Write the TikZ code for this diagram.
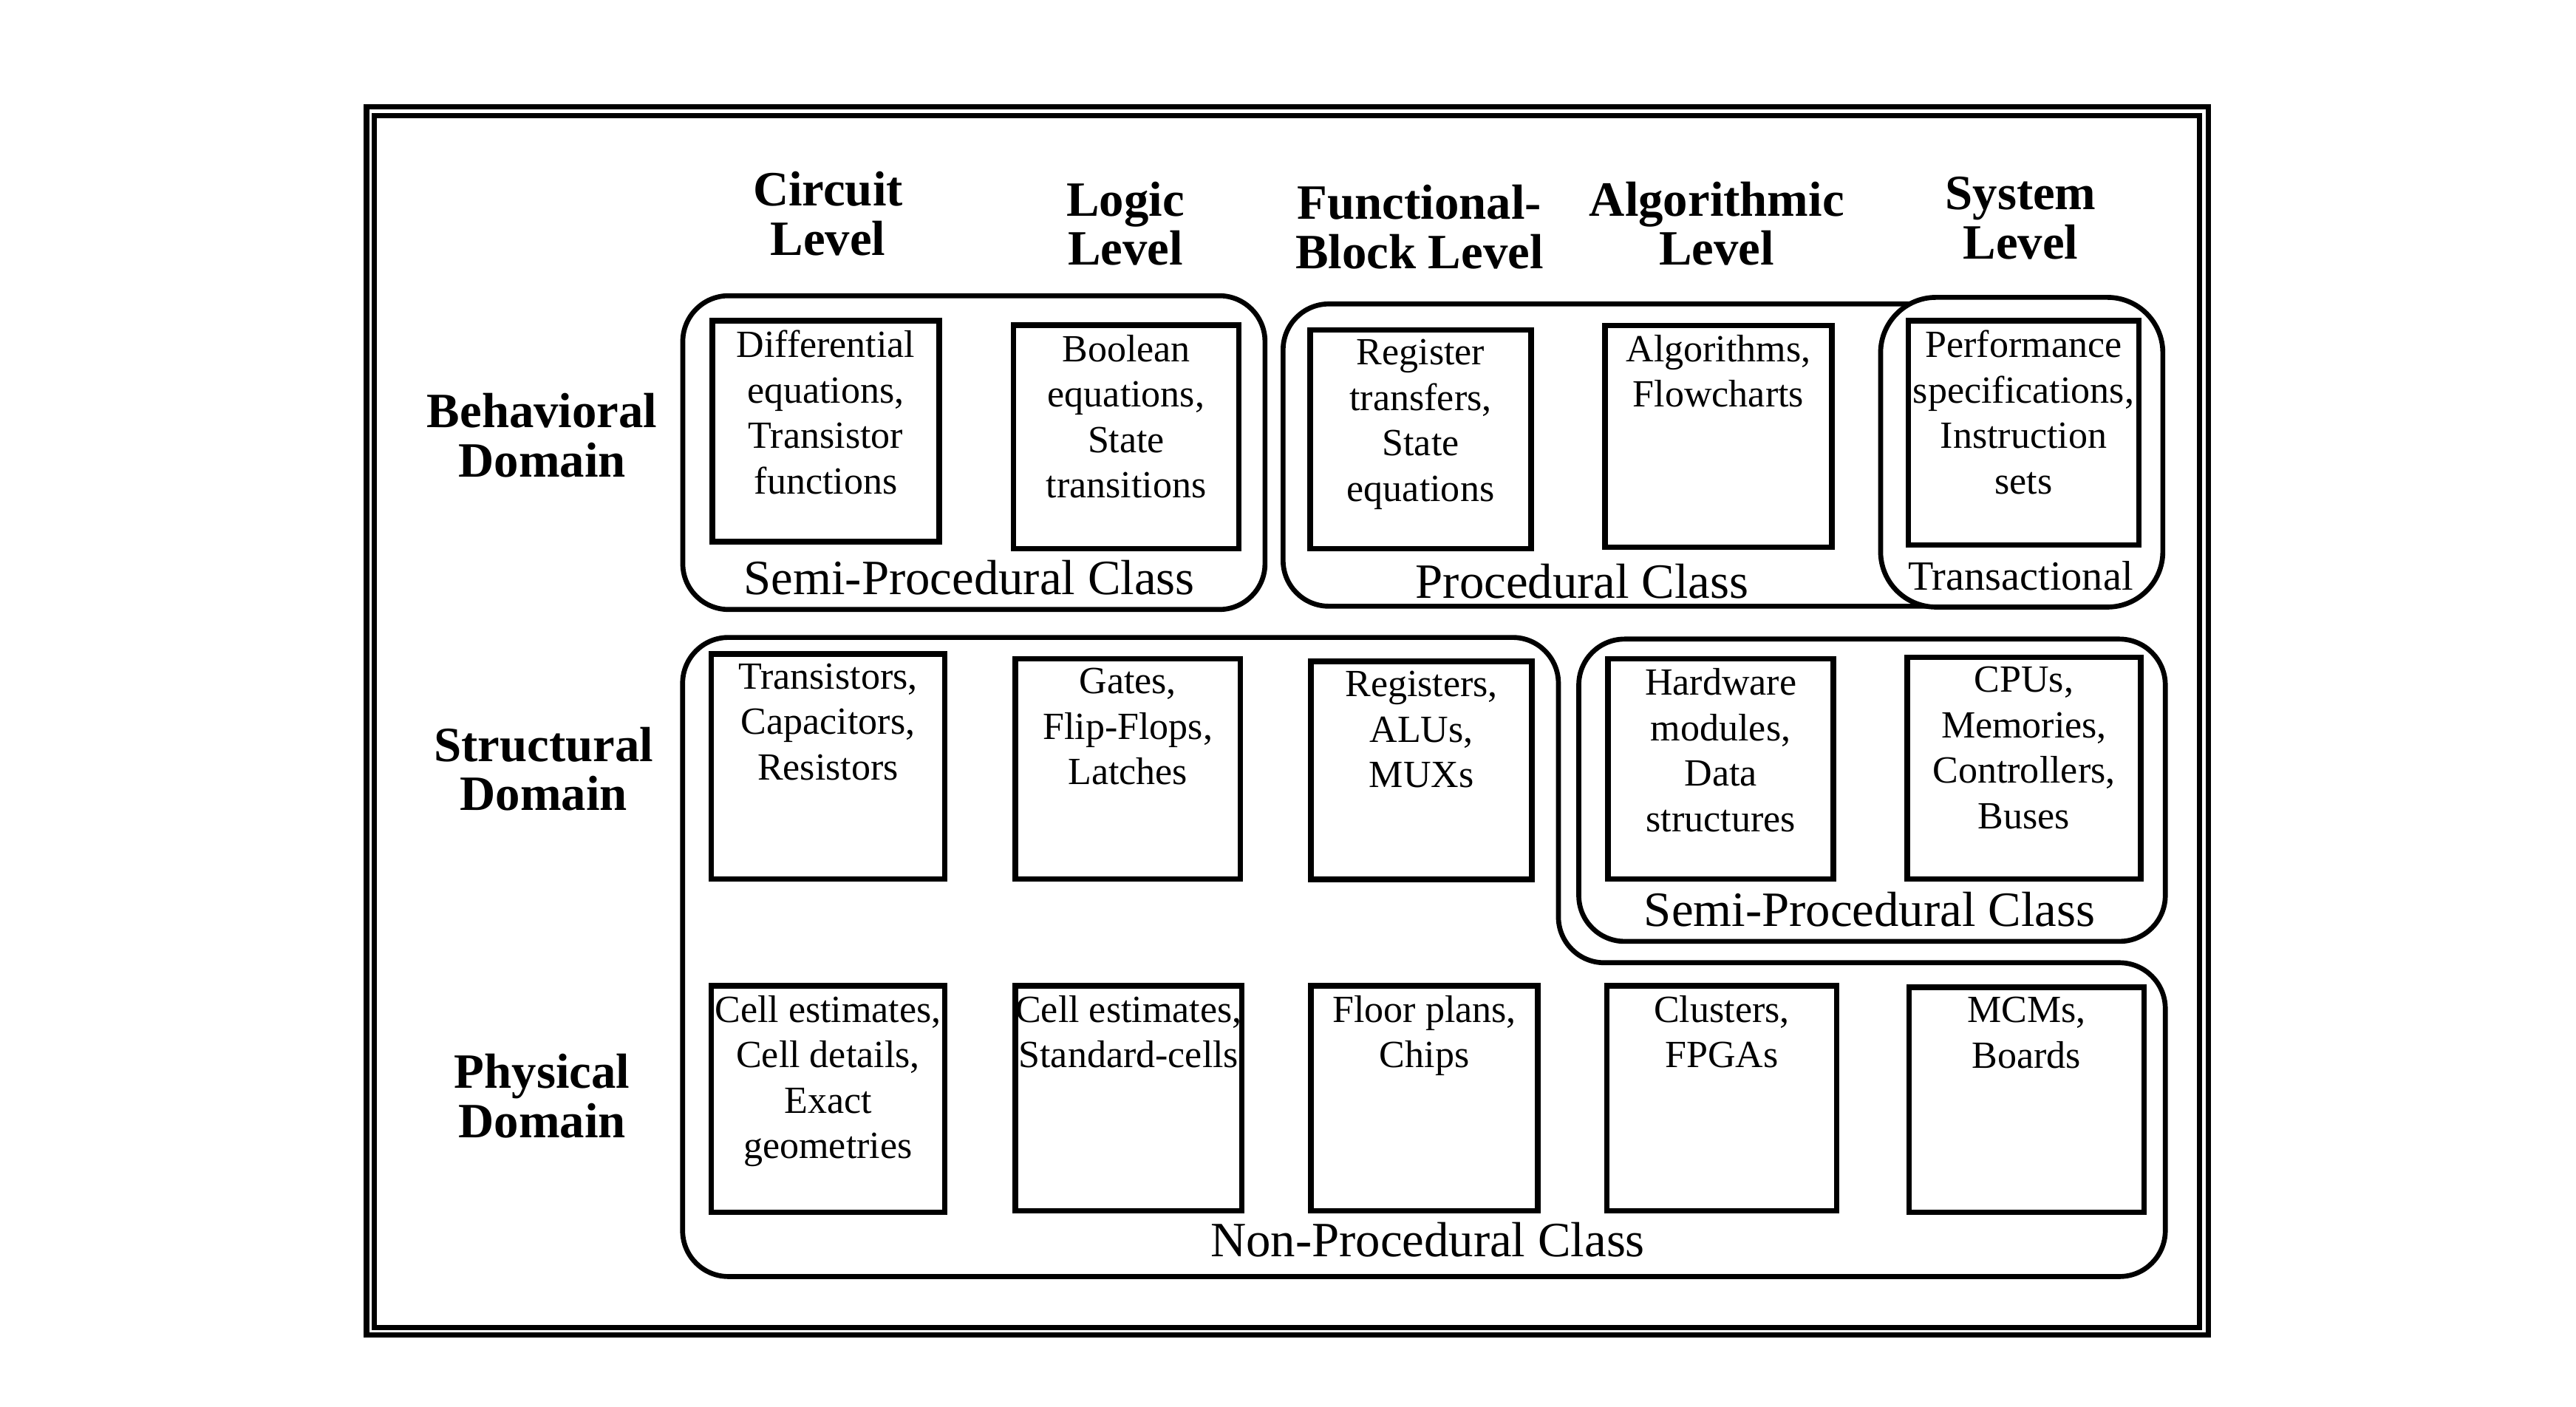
\documentclass[tikz,border=0pt]{standalone}
\usepackage{fontspec}
\setmainfont{Liberation Serif}
\begin{document}
\begin{tikzpicture}[x=0.022232cm, y=-0.022232cm,
  cell/.style={draw, line width=2.1pt, inner sep=0pt, outer sep=0pt, minimum width=3.07cm, minimum height=3.0cm},
  txt/.style={anchor=north, align=center, inner sep=0pt, yshift=-3.5pt, font=\fontsize{14.8}{17.5}\selectfont},
  hdr/.style={anchor=north, align=center, inner sep=0pt, font=\fontsize{19}{19}\selectfont\bfseries},
  cls/.style={anchor=base, inner sep=0pt, font=\fontsize{19}{19}\selectfont},
  grp/.style={line width=1.9pt, rounded corners=0.62cm},
  frm/.style={line width=2pt}]
\useasboundingbox (0,0) rectangle (1568,856);
% double frame
\draw[frm] (223.1,65.2) rectangle (1344,812.4);
\draw[frm] (228,70.2) rectangle (1339,807.9);

% level headers
\node[hdr] (hc) at (504,104.2) {Circuit\\Level};
\node[hdr] (hl) at (685,110.2) {Logic\\Level};
\node[hdr] (hf) at (864,112.2) {Functional-\\Block Level};
\node[hdr] (ha) at (1045,110.2) {Algorithmic\\Level};
\node[hdr] (hs) at (1230,107.2) {System\\Level};

% domain labels
\node[hdr] (db) at (330,239.2) {Behavioral\\Domain};
\node[hdr] (ds) at (331,442.2) {Structural\\Domain};
\node[hdr] (dp) at (330,641.2) {Physical\\Domain};

% class containers
\draw[grp] (415.6,180) rectangle (770,371);
\draw[grp] (781,185) rectangle (1300,369);
\draw[grp, rounded corners=0.75cm, fill=white] (1144.7,181) rectangle (1316.5,369.5);
\draw[grp] (961,389) rectangle (1318,573);
\draw[grp] (415.5,388) -- (948.6,388) -- (948.6,586) -- (1318,586) -- (1318,777) -- (415.5,777) -- cycle;

% class labels
\node[cls] (c1) at (590,362) {Semi-Procedural Class};
\node[cls] (c2) at (963,364) {Procedural Class};
\node[cls, font=\fontsize{16}{16}\selectfont] (c3) at (1230,359.3) {Transactional};
\node[cls] (c4) at (1138,564) {Semi-Procedural Class};
\node[cls] (c5) at (869,765) {Non-Procedural Class};

% behavioral row
\node[cell, minimum width=3.070cm, minimum height=2.990cm] (b1) at (502.65,262.45) {};
\node[cell, minimum width=3.046cm, minimum height=3.024cm] (b2) at (685.5,266) {};
\node[cell, minimum width=2.990cm, minimum height=2.961cm] (b3) at (864.75,267.4) {};
\node[cell, minimum width=3.068cm, minimum height=3.001cm] (b4) at (1046,265.5) {};
\node[cell, minimum width=3.124cm, minimum height=3.035cm] (b5) at (1231.75,263.45) {};
\node[txt] (tb1) at (b1.north) {Differential\\equations,\\Transistor\\functions};
\node[txt] (tb2) at (b2.north) {Boolean\\equations,\\State\\transitions};
\node[txt] (tb3) at (b3.north) {Register\\transfers,\\State\\equations};
\node[txt] (tb4) at (b4.north) {Algorithms,\\Flowcharts};
\node[txt] (tb5) at (b5.north) {Performance\\specifications,\\Instruction\\sets};

% structural row
\node[cell, minimum width=3.157cm, minimum height=3.046cm] (s1) at (504,466.5) {};
\node[cell, minimum width=3.046cm, minimum height=2.979cm] (s2) at (686.5,468) {};
\node[cell, minimum width=2.990cm, minimum height=2.950cm] (s3) at (865.25,468.95) {};
\node[cell, minimum width=3.050cm, minimum height=2.979cm] (s4) at (1047.4,468) {};
\node[cell, minimum width=3.157cm, minimum height=3.001cm] (s5) at (1232,467.5) {};
\node[txt] (ts1) at (s1.north) {Transistors,\\Capacitors,\\Resistors};
\node[txt] (ts2) at (s2.north) {Gates,\\Flip-Flops,\\Latches};
\node[txt] (ts3) at (s3.north) {Registers,\\ALUs,\\MUXs};
\node[txt] (ts4) at (s4.north) {Hardware\\modules,\\Data\\structures};
\node[txt] (ts5) at (s5.north) {CPUs,\\Memories,\\Controllers,\\Buses};

% physical row
\node[cell, minimum width=3.157cm, minimum height=3.068cm] (p1) at (504,669) {};
\node[cell, minimum width=3.068cm, minimum height=3.046cm] (p2) at (687,668.5) {};
\node[cell, minimum width=3.068cm, minimum height=3.046cm] (p3) at (867,668.5) {};
\node[cell, minimum width=3.112cm, minimum height=3.046cm] (p4) at (1048,668.5) {};
\node[cell, minimum width=3.179cm, minimum height=3.046cm] (p5) at (1233.5,669.5) {};
\node[txt] (tp1) at (p1.north) {Cell estimates,\\Cell details,\\Exact\\geometries};
\node[txt] (tp2) at (p2.north) {Cell estimates,\\Standard-cells};
\node[txt] (tp3) at (p3.north) {Floor plans,\\Chips};
\node[txt] (tp4) at (p4.north) {Clusters,\\FPGAs};
\node[txt] (tp5) at (p5.north) {MCMs,\\Boards};
\end{tikzpicture}
\end{document}
